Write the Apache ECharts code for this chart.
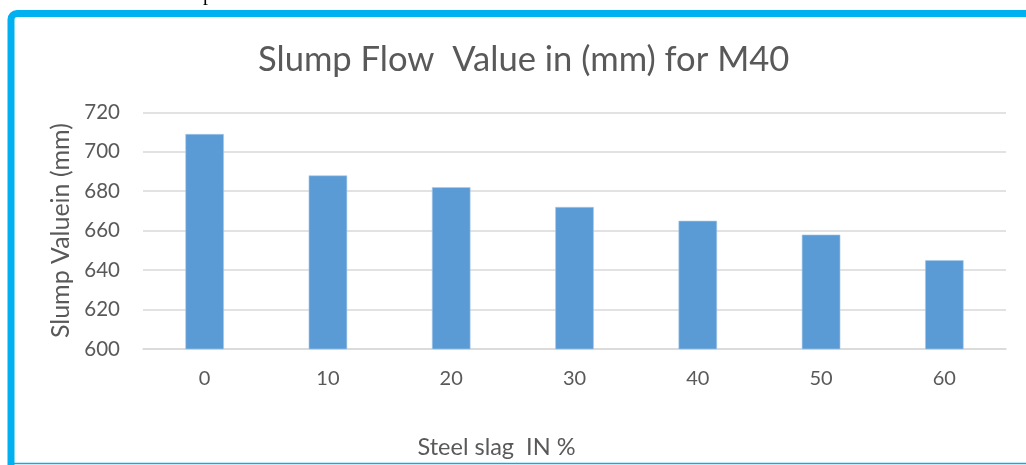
<!DOCTYPE html>
<html><head><meta charset="utf-8">
<script src="https://cdn.jsdelivr.net/npm/echarts@6/dist/echarts.min.js"></script>
<style>html,body{margin:0;padding:0;background:#fff}#c{width:1026px;height:465px}</style>
</head><body><div id="c"></div>
<script>
const categories = ['0','10','20','30','40','50','60'];
const slumpValues = [709, 688, 682, 672, 665, 658, 645];
const yTicks = [600, 620, 640, 660, 680, 700, 720];
const titleText = 'Slump Flow  Value in (mm) for M40';
const xName = 'Steel slag  IN %';
const yName = 'Slump Valuein (mm)';

const chart = echarts.init(document.getElementById('c'), null, {renderer:'canvas'});
const txt = '#595959';
const font = 'Lato';
chart.setOption({
  animation:false,
  backgroundColor:'#fff',
  title:{text:titleText,left:253,top:37,textStyle:{fontFamily:font,fontWeight:'normal',fontSize:34.6,color:txt}},
  grid:{left:143,right:20,top:112.3,bottom:116},
  xAxis:{type:'category',data:categories,
    axisLine:{show:true,lineStyle:{color:'#d9d9d9',width:1.5}},axisTick:{show:false},
    axisLabel:{color:txt,fontFamily:font,fontSize:20,margin:20},
    name:xName,nameLocation:'middle',nameGap:86,
    nameTextStyle:{color:txt,fontFamily:font,fontSize:23.5,padding:[0,156,0,0]}},
  yAxis:{type:'value',min:yTicks[0],max:yTicks[yTicks.length-1],interval:20,
    axisLine:{show:false},axisTick:{show:false},
    splitLine:{lineStyle:{color:'#d9d9d9',width:1.5}},
    axisLabel:{color:txt,fontFamily:font,fontSize:20.5,margin:23},
    name:yName,nameLocation:'middle',nameGap:69,
    nameTextStyle:{color:txt,fontFamily:font,fontSize:25}},
  series:[{type:'bar',data:slumpValues,barWidth:38.5,
    itemStyle:{color:'#5b9bd5',borderColor:'#a9c9ea',borderWidth:0.6}}],
  graphic:[
    {type:'rect',shape:{x:11,y:13.5,width:1200,height:1000,r:6},style:{fill:'none',stroke:'#00b0f0',lineWidth:7},z:100},
    {type:'line',shape:{x1:11,y1:463.5,x2:1026,y2:463.5},style:{stroke:'#00b0f0',lineWidth:1.5},z:100},
    {type:'text',left:203,top:-15,style:{text:'p',font:'20px "Liberation Serif"',fill:'#000'},z:100}
  ]
});
</script></body></html>
